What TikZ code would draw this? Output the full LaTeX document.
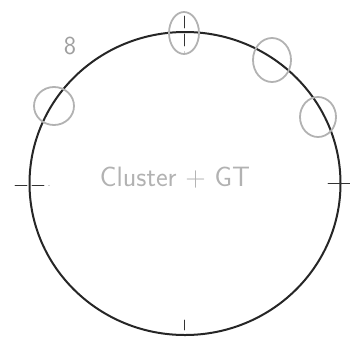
\documentclass[tikz,border=0pt]{standalone}
\usepackage{tikz}
\usetikzlibrary{positioning}

\begin{document}
\begin{tikzpicture}[x=1pt, y=-1pt, font=\sffamily, line cap=round]
    \useasboundingbox (0,0) rectangle (350,338);
    % main outline
    \draw[black!85, line width=2pt] (185,183.5) ellipse [x radius=155.5, y radius=151.5];
    % pencil marks on the outline
    \foreach \x/\y/\rx/\ry in {184/33/15/21, 272/60/19/22, 318/117/18/20, 54/106/20/19} {
      \draw[gray!60, line width=1.8pt] (\x,\y) ellipse [x radius=\rx, y radius=\ry];
    }
    \draw[black!80, line width=.9pt, dash pattern=on 12pt off 6pt] (184,16) -- (184,52);
    \draw[black!80, line width=.9pt, dash pattern=on 12pt off 5pt] (15,185) -- (49,185);
    \draw[black!80, line width=.9pt] (328,183) -- (350,183);
    \draw[black!80, line width=.8pt] (184,320) -- (184,330);
    \node[text=gray!75, font=\sffamily\fontsize{26}{30}\selectfont] (count) at (70,46) {8};
    \node[text=gray!60, font=\sffamily\fontsize{28}{32}\selectfont] (label) at (175,178) {Cluster + GT};
\end{tikzpicture}
\end{document}
